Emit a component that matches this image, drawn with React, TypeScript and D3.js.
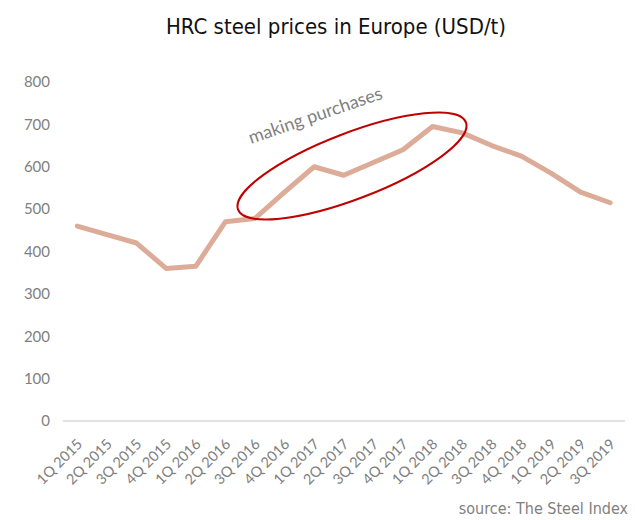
import React from "react";
import * as d3 from "d3";

const quarters = [
  "1Q 2015", "2Q 2015", "3Q 2015", "4Q 2015",
  "1Q 2016", "2Q 2016", "3Q 2016", "4Q 2016",
  "1Q 2017", "2Q 2017", "3Q 2017", "4Q 2017",
  "1Q 2018", "2Q 2018", "3Q 2018", "4Q 2018",
  "1Q 2019", "2Q 2019", "3Q 2019",
];
const prices = [
  460, 440, 420, 360,
  365, 470, 478, 540,
  600, 580, 610, 640,
  695, 680, 650, 625,
  585, 540, 515,
];
const yTicks = [0, 100, 200, 300, 400, 500, 600, 700, 800];

const W = 635;
const H = 520;

export default function App() {
  const x = d3.scaleBand<string>().domain(quarters).range([62.5, 625]);
  const y = d3.scaleLinear().domain([0, 800]).range([421, 82]);
  const cx = (q: string) => (x(q) as number) + x.bandwidth() / 2;

  const line = d3
    .line<number>()
    .x((_, i) => cx(quarters[i]))
    .y((d) => y(d));

  const condensed = "'DejaVu Sans Condensed', 'Liberation Sans Narrow', sans-serif";
  const tickFont = "Lato, 'Open Sans', sans-serif";

  return (
    <svg
      width={W}
      height={H}
      style={{ position: "absolute", left: 0, top: 0, background: "#fff" }}
    >
      <text
        x={336}
        y={34}
        textAnchor="middle"
        fontFamily={condensed}
        fontSize={22}
        fill="#111"
      >
        HRC steel prices in Europe (USD/t)
      </text>

      {yTicks.map((t) => (
        <text
          key={t}
          x={50}
          y={y(t)}
          dy="0.35em"
          textAnchor="end"
          fontFamily={tickFont}
          fontSize={15}
          fill="#7f7f7f"
        >
          {t}
        </text>
      ))}

      <line x1={63} x2={625} y1={y(0)} y2={y(0)} stroke="#d9d9d9" strokeWidth={1.5} />

      {quarters.map((q) => (
        <text
          key={q}
          transform={`translate(${cx(q) + 6},${y(0) + 24}) rotate(-45)`}
          textAnchor="end"
          fontFamily={tickFont}
          fontSize={14.5}
          fill="#7f7f7f"
        >
          {q}
        </text>
      ))}

      <path
        d={line(prices) ?? ""}
        fill="none"
        stroke="#ddac98"
        strokeWidth={5}
        strokeLinejoin="round"
        strokeLinecap="round"
      />

      <ellipse
        cx={352}
        cy={166}
        rx={122}
        ry={33}
        transform="rotate(-21 352 166)"
        fill="none"
        stroke="#c00000"
        strokeWidth={2}
      />

      <text
        transform="translate(251,144) rotate(-19)"
        fontFamily={tickFont}
        fontSize={18}
        fill="#7f7f7f"
      >
        making purchases
      </text>

      <text
        x={628}
        y={514}
        textAnchor="end"
        fontFamily={condensed}
        fontSize={16}
        fill="#7f7f7f"
      >
        source: The Steel Index
      </text>
    </svg>
  );
}
